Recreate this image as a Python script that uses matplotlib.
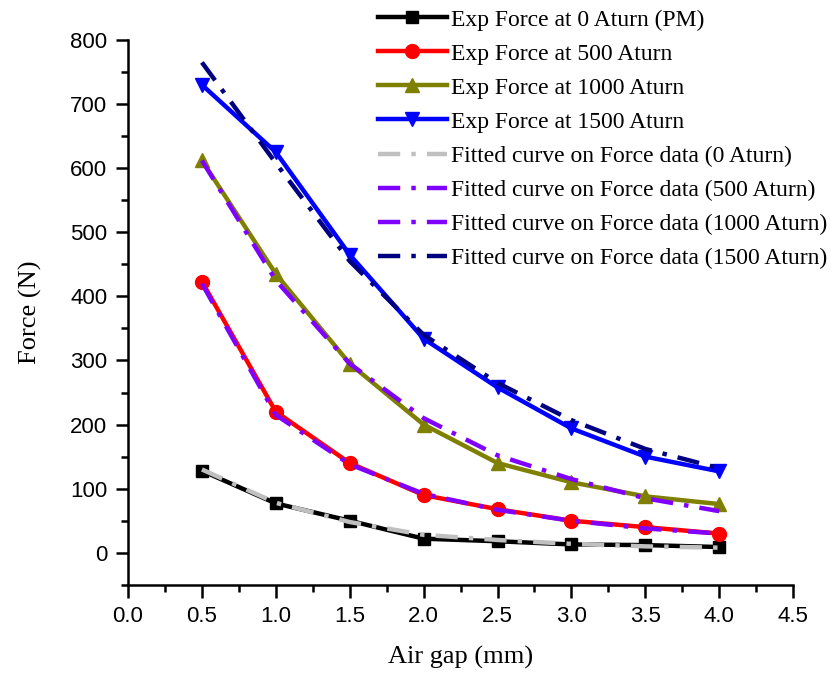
import matplotlib
matplotlib.use("Agg")
import matplotlib.pyplot as plt
from matplotlib.ticker import MultipleLocator

# air gap (mm)
gap = [0.5, 1.0, 1.5, 2.0, 2.5, 3.0, 3.5, 4.0]

# measured force (N)
exp_0 = [128, 77, 50, 22, 18, 13, 12, 9]
exp_500 = [423, 220, 140, 90, 68, 50, 40, 30]
exp_1000 = [612, 435, 295, 200, 140, 110, 88, 76]
exp_1500 = [730, 625, 465, 334, 258, 194, 150, 127]

# fitted curves (N)
fit_0 = [130, 78, 48, 28, 20, 14, 10, 8]
fit_500 = [420, 215, 138, 92, 67, 50, 38, 30]
fit_1000 = [612, 425, 295, 210, 152, 115, 85, 65]
fit_1500 = [765, 608, 455, 340, 265, 207, 162, 132]

serif = "Liberation Serif"
sans = "Liberation Sans"

fig = plt.figure(figsize=(8.34, 6.73), dpi=100)
ax = fig.add_axes([0.1535, 0.131, 0.7975, 0.8096])

ax.plot(gap, exp_0, color="black", lw=3.2, marker="s", ms=9, label="Exp Force at 0 Aturn (PM)")
ax.plot(gap, exp_500, color="#ff0000", lw=3.2, marker="o", ms=10, label="Exp Force at 500 Aturn")
ax.plot(gap, exp_1000, color="#808000", lw=3.2, marker="^", ms=10, label="Exp Force at 1000 Aturn")
ax.plot(gap, exp_1500, color="#0000ff", lw=3.2, marker="v", ms=10, label="Exp Force at 1500 Aturn")

dash = (0, (5, 2.5, 1, 2.5))
ax.plot(gap, fit_0, color="#c0c0c0", lw=3.2, ls=dash, label="Fitted curve on Force data (0 Aturn)")
ax.plot(gap, fit_500, color="#8000ff", lw=3.2, ls=dash, label="Fitted curve on Force data (500 Aturn)")
ax.plot(gap, fit_1000, color="#8000ff", lw=3.2, ls=dash, label="Fitted curve on Force data (1000 Aturn)")
ax.plot(gap, fit_1500, color="#000080", lw=3.2, ls=dash, label="Fitted curve on Force data (1500 Aturn)")

ax.set_xlim(0, 4.5)
ax.set_ylim(-50, 800)
ax.xaxis.set_major_locator(MultipleLocator(0.5))
ax.xaxis.set_minor_locator(MultipleLocator(0.25))
ax.yaxis.set_major_locator(MultipleLocator(100))
ax.yaxis.set_minor_locator(MultipleLocator(50))
ax.xaxis.set_major_formatter(plt.FormatStrFormatter("%.1f"))

for s in ["top", "right"]:
    ax.spines[s].set_visible(False)
for s in ["left", "bottom"]:
    ax.spines[s].set_linewidth(1.8)
ax.tick_params(which="major", direction="out", length=9, width=1.8, labelsize=16, pad=6)
ax.tick_params(which="minor", direction="out", length=5, width=1.8)
for lab in ax.get_xticklabels() + ax.get_yticklabels():
    lab.set_fontfamily(sans)

ax.set_xlabel("Air gap (mm)", fontsize=19, family=serif, labelpad=14)
ax.set_ylabel("Force (N)", fontsize=19, family=serif, labelpad=20)

leg = ax.legend(loc="upper left", bbox_to_anchor=(0.362, 1.074), frameon=False,
                prop={"family": serif, "size": 17}, handlelength=2.9,
                handletextpad=0.2, labelspacing=0.53, borderaxespad=0)

fig.savefig("out.png", dpi=100)
